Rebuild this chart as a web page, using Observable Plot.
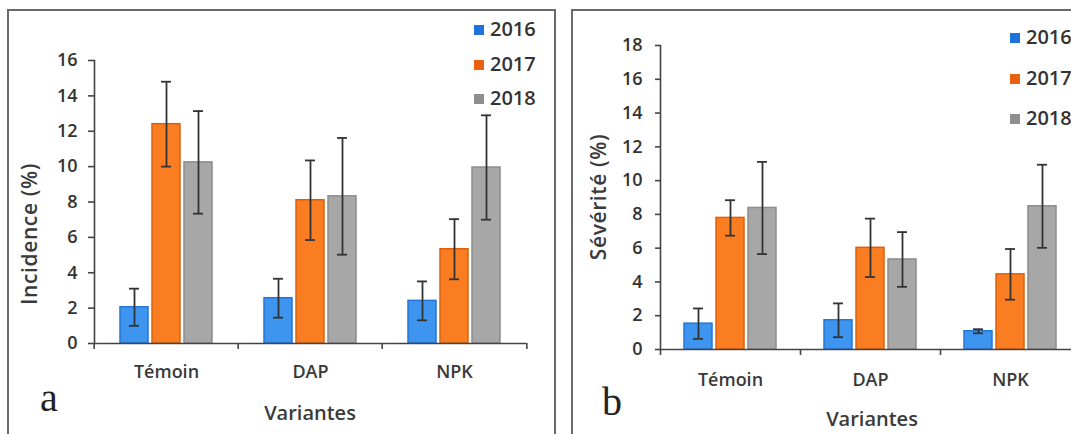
<!DOCTYPE html>
<html>
<head>
<meta charset="utf-8">
<script src="https://cdn.jsdelivr.net/npm/d3@7"></script>
<script src="https://cdn.jsdelivr.net/npm/@observablehq/plot@0.6"></script>
<style>
  html, body { margin: 0; padding: 0; background: #fff; }
  #root { position: relative; width: 1071px; height: 434px; overflow: hidden; background: #fff;
          font-family: "Open Sans", "Noto Sans", sans-serif; color: #333; }
  .abs { position: absolute; }
  .abs svg { max-width: none !important; }
  .frame { position: absolute; border: 2px solid #6a6a6a; box-sizing: border-box; }
  .ylab { position: absolute; font-size: 21px; font-weight: 600; white-space: nowrap; letter-spacing: 0.6px;
          transform: translate(-50%, -50%) rotate(-90deg); color: #3a3a3a; }
  .xlab { position: absolute; font-size: 20px; font-weight: 600; white-space: nowrap;
          transform: translate(-50%, -50%); color: #3a3a3a; }
  .panel { position: absolute; font-family: "Liberation Serif", serif; font-size: 40px; line-height: 1; color: #222; }
  .leg { position: absolute; font-size: 20px; font-weight: 600; color: #333; white-space: nowrap; line-height: 1; }
  .leg span.sw { display: inline-block; width: 10px; height: 10px; margin-right: 6px; vertical-align: 1px; }
</style>
</head>
<body>
<div id="root"></div>
<script>
// ---- data ----
const categories = ["Témoin", "DAP", "NPK"];
const years = ["2016", "2017", "2018"];

// Panel a: Incidence (%)
const incidence2016 = [2.05, 2.56, 2.41];
const incidence2017 = [12.4, 8.1, 5.33];
const incidence2018 = [10.24, 8.32, 9.95];
const incidenceErr2016 = [1.05, 1.1, 1.1];
const incidenceErr2017 = [2.4, 2.25, 1.7];
const incidenceErr2018 = [2.9, 3.3, 2.95];

// Panel b: Sévérité (%)
const severity2016 = [1.53, 1.73, 1.08];
const severity2017 = [7.79, 6.02, 4.45];
const severity2018 = [8.38, 5.33, 8.48];
const severityErr2016 = [0.9, 1.0, 0.12];
const severityErr2017 = [1.05, 1.73, 1.5];
const severityErr2018 = [2.73, 1.62, 2.46];

const incidenceTicks = [0, 2, 4, 6, 8, 10, 12, 14, 16];
const severityTicks = [0, 2, 4, 6, 8, 10, 12, 14, 16, 18];

// ---- styles ----
const fillColors = {"2016": "#3d95ef", "2017": "#fa7d22", "2018": "#a7a7a7"};
const strokeColors = {"2016": "#2574d8", "2017": "#dc600c", "2018": "#8c8c8c"};
const swatchColors = {"2016": "#1d72de", "2017": "#e9600e", "2018": "#8f8f8f"};

function rowsFrom(series, errs) {
  return categories.flatMap((cat, i) =>
    years.map((year, j) => ({cat, year, value: series[j][i], err: errs[j][i]})));
}

function chart(rows, o) {
  const half = o.facetWidth / categories.length / 2;
  return Plot.plot({
    width: o.marginLeft + o.facetWidth + o.marginRight,
    height: o.height,
    marginLeft: o.marginLeft,
    marginRight: o.marginRight,
    marginTop: o.marginTop,
    marginBottom: o.marginBottom,
    style: {fontFamily: "'Open Sans', 'Noto Sans', sans-serif", fontSize: "18px", fontWeight: 600, color: "#333", background: "transparent"},
    fx: {domain: categories, padding: 0},
    x: {domain: years, paddingInner: 0.12, paddingOuter: o.paddingOuter, axis: null},
    y: {domain: o.yDomain, axis: null},
    color: {type: "identity"},
    marks: [
      Plot.barY(rows, {fx: "cat", x: "year", y: "value",
        fill: d => fillColors[d.year], stroke: d => strokeColors[d.year], strokeWidth: 1.5}),
      Plot.ruleX(rows, {fx: "cat", x: "year", y1: d => d.value - d.err, y2: d => d.value + d.err,
        stroke: "#333", strokeWidth: 1.8}),
      Plot.tickY(rows, {fx: "cat", x: "year", y: d => d.value + d.err, stroke: "#333", strokeWidth: 1.8, inset: 9}),
      Plot.tickY(rows, {fx: "cat", x: "year", y: d => d.value - d.err, stroke: "#333", strokeWidth: 1.8, inset: 9}),
      Plot.ruleY([0], {stroke: "#444", strokeWidth: 1.6}),
      Plot.frame({anchor: "left", facetAnchor: "left", stroke: "#444", strokeWidth: 1.6}),
      Plot.axisY({ticks: o.ticks, tickSize: o.tickSize, tickPadding: o.tickPadding, label: null,
        stroke: "#444", strokeWidth: 1.6, fill: "#333"}),
      Plot.axisFx({anchor: "bottom", tickSize: 0, tickPadding: o.fxPadding, label: null, fill: "#3a3a3a"}),
      Plot.axisFx({anchor: "bottom", tickSize: 6, tickFormat: () => "", label: null, dx: -half, stroke: "#444", strokeWidth: 1.6}),
      Plot.axisFx({anchor: "bottom", ticks: [categories[categories.length - 1]], tickSize: 6, tickFormat: () => "", label: null, dx: half, stroke: "#444", strokeWidth: 1.6})
    ]
  });
}

const root = document.getElementById("root");

function place(el, left, top, width) {
  const wrap = document.createElement("div");
  wrap.className = "abs";
  wrap.style.left = left + "px";
  wrap.style.top = top + "px";
  wrap.style.width = width + "px";
  el.style.maxWidth = "none";
  wrap.appendChild(el);
  root.appendChild(wrap);
}

function addDiv(cls, html, style) {
  const d = document.createElement("div");
  d.className = cls;
  d.innerHTML = html;
  Object.assign(d.style, style);
  root.appendChild(d);
  return d;
}

// frames
addDiv("frame", "", {left: "7px", top: "9px", width: "549px", height: "440px"});
addDiv("frame", "", {left: "571px", top: "9px", width: "540px", height: "440px"});

// panel a
const rowsA = rowsFrom([incidence2016, incidence2017, incidence2018], [incidenceErr2016, incidenceErr2017, incidenceErr2018]);
place(chart(rowsA, {marginLeft: 93, facetWidth: 434, marginRight: 20, marginTop: 60, marginBottom: 91, height: 434,
  yDomain: [0, 16], ticks: incidenceTicks, tickSize: 6, tickPadding: 11, fxPadding: 22, paddingOuter: 0.75}), 0, 0, 547);

// panel b
const rowsB = rowsFrom([severity2016, severity2017, severity2018], [severityErr2016, severityErr2017, severityErr2018]);
place(chart(rowsB, {marginLeft: 100, facetWidth: 420, marginRight: 20, marginTop: 45, marginBottom: 85, height: 434,
  yDomain: [0, 18], ticks: severityTicks, tickSize: 5, tickPadding: 13, fxPadding: 24, paddingOuter: 0.7}), 560, 0, 540);

// axis titles
addDiv("ylab", "Incidence (%)", {left: "29px", top: "234px"});
addDiv("ylab", "Sévérité (%)", {left: "598px", top: "197px"});
addDiv("xlab", "Variantes", {left: "310px", top: "412px"});
addDiv("xlab", "Variantes", {left: "872px", top: "418px"});

// panel letters
addDiv("panel", "a", {left: "40px", top: "378px"});
addDiv("panel", "b", {left: "602px", top: "382px"});

// legends
function legend(left, top, gap) {
  years.forEach((y, i) => {
    addDiv("leg", `<span class="sw" style="background:${swatchColors[y]}"></span>${y}`,
      {left: left + "px", top: (top + i * gap) + "px"});
  });
}
legend(474, 19, 34.5);
legend(1010, 27, 40.5);
</script>
</body>
</html>
